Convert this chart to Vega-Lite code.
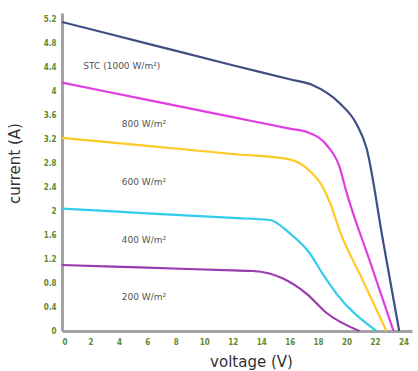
{
  "$schema": "https://vega.github.io/schema/vega-lite/v6.json",
  "width": 350,
  "height": 318,
  "autosize": {"type": "none"},
  "padding": {"left": 62, "top": 13, "right": 6, "bottom": 40},
  "background": "white",
  "config": {"view": {"stroke": null}, "axis": {"labelOverlap": false}},
  "datasets": {
    "curves": [
      {"s": "STC", "v": 0, "i": 5.15},
      {"s": "STC", "v": 6, "i": 4.79},
      {"s": "STC", "v": 12, "i": 4.43},
      {"s": "STC", "v": 16, "i": 4.195},
      {"s": "STC", "v": 17.6, "i": 4.1},
      {"s": "STC", "v": 19.5, "i": 3.8},
      {"s": "STC", "v": 20.7, "i": 3.45},
      {"s": "STC", "v": 21.4, "i": 3.05},
      {"s": "STC", "v": 22.55, "i": 1.52},
      {"s": "STC", "v": 23.7, "i": 0},
      {"s": "800", "v": 0, "i": 4.14},
      {"s": "800", "v": 6, "i": 3.852},
      {"s": "800", "v": 12, "i": 3.564},
      {"s": "800", "v": 16, "i": 3.372},
      {"s": "800", "v": 17.3, "i": 3.31},
      {"s": "800", "v": 18.6, "i": 3.1},
      {"s": "800", "v": 19.5, "i": 2.74},
      {"s": "800", "v": 20.0, "i": 2.31},
      {"s": "800", "v": 21.65, "i": 1.155},
      {"s": "800", "v": 23.3, "i": 0},
      {"s": "600", "v": 0, "i": 3.22},
      {"s": "600", "v": 6, "i": 3.085},
      {"s": "600", "v": 12, "i": 2.95},
      {"s": "600", "v": 16.0, "i": 2.86},
      {"s": "600", "v": 17.4, "i": 2.67},
      {"s": "600", "v": 18.3, "i": 2.41},
      {"s": "600", "v": 18.9, "i": 2.1},
      {"s": "600", "v": 19.5, "i": 1.68},
      {"s": "600", "v": 21.15, "i": 0.84},
      {"s": "600", "v": 22.8, "i": 0},
      {"s": "400", "v": 0, "i": 2.04},
      {"s": "400", "v": 6, "i": 1.962},
      {"s": "400", "v": 12, "i": 1.884},
      {"s": "400", "v": 14.6, "i": 1.85},
      {"s": "400", "v": 16.0, "i": 1.63},
      {"s": "400", "v": 17.4, "i": 1.3},
      {"s": "400", "v": 18.3, "i": 0.96},
      {"s": "400", "v": 19.3, "i": 0.62},
      {"s": "400", "v": 22.1, "i": 0},
      {"s": "200", "v": 0, "i": 1.1},
      {"s": "200", "v": 6, "i": 1.055},
      {"s": "200", "v": 12, "i": 1.01},
      {"s": "200", "v": 13.4, "i": 1.0},
      {"s": "200", "v": 15.5, "i": 0.88},
      {"s": "200", "v": 17.2, "i": 0.62},
      {"s": "200", "v": 18.6, "i": 0.3},
      {"s": "200", "v": 20.9, "i": 0}
    ],
    "labels": [
      {"t": "STC (1000 W/m²)", "v": 1.5, "i": 4.41},
      {"t": "800 W/m²", "v": 4.2, "i": 3.45},
      {"t": "600 W/m²", "v": 4.2, "i": 2.49},
      {"t": "400 W/m²", "v": 4.2, "i": 1.52},
      {"t": "200 W/m²", "v": 4.2, "i": 0.56}
    ]
  },
  "encoding": {
    "x": {
      "field": "v", "type": "quantitative",
      "scale": {"domain": [0, 24.6], "nice": false, "zero": false},
      "axis": {
        "title": "voltage (V)",
        "values": [0, 2, 4, 6, 8, 10, 12, 14, 16, 18, 20, 22, 24],
        "format": "~g",
        "labelOverlap": false,
        "grid": false, "ticks": false,
        "domainColor": "#a3a3a3", "domainWidth": 3,
        "labelColor": "#5f8a2e", "labelFont": "DejaVu Sans Condensed", "labelFontSize": 8, "labelFontWeight": "bold",
        "labelPadding": 7,
        "titleFont": "DejaVu Sans", "titleFontSize": 15, "titleFontWeight": "normal", "titleColor": "#333333",
        "titleX": 189, "titleY": 23, "titleBaseline": "top"
      }
    },
    "y": {
      "field": "i", "type": "quantitative",
      "scale": {"domain": [0, 5.3], "nice": false},
      "axis": {
        "title": "current (A)",
        "values": [0, 0.4, 0.8, 1.2, 1.6, 2, 2.4, 2.8, 3.2, 3.6, 4, 4.4, 4.8, 5.2],
        "format": "~g",
        "labelOverlap": false,
        "grid": false, "ticks": false,
        "domainColor": "#a3a3a3", "domainWidth": 3,
        "labelColor": "#5f8a2e", "labelFont": "DejaVu Sans Condensed", "labelFontSize": 8, "labelFontWeight": "bold",
        "labelPadding": 6,
        "titleFont": "DejaVu Sans", "titleFontSize": 15, "titleFontWeight": "normal", "titleColor": "#333333",
        "titleX": -40, "titleY": 150
      }
    }
  },
  "layer": [
    {
      "data": {"name": "curves"},
      "mark": {"type": "line", "interpolate": "monotone", "strokeWidth": 2.2},
      "encoding": {
        "color": {
          "field": "s", "type": "nominal",
          "scale": {"domain": ["STC", "800", "600", "400", "200"], "range": ["#3f4f86", "#e03ee0", "#ffc928", "#33ccec", "#9b3bb0"]},
          "legend": null
        }
      }
    },
    {
      "data": {"name": "labels"},
      "mark": {"type": "text", "align": "left", "baseline": "middle", "font": "DejaVu Sans", "fontSize": 9, "color": "#555555"},
      "encoding": {
        "text": {"field": "t"}
      }
    }
  ]
}
